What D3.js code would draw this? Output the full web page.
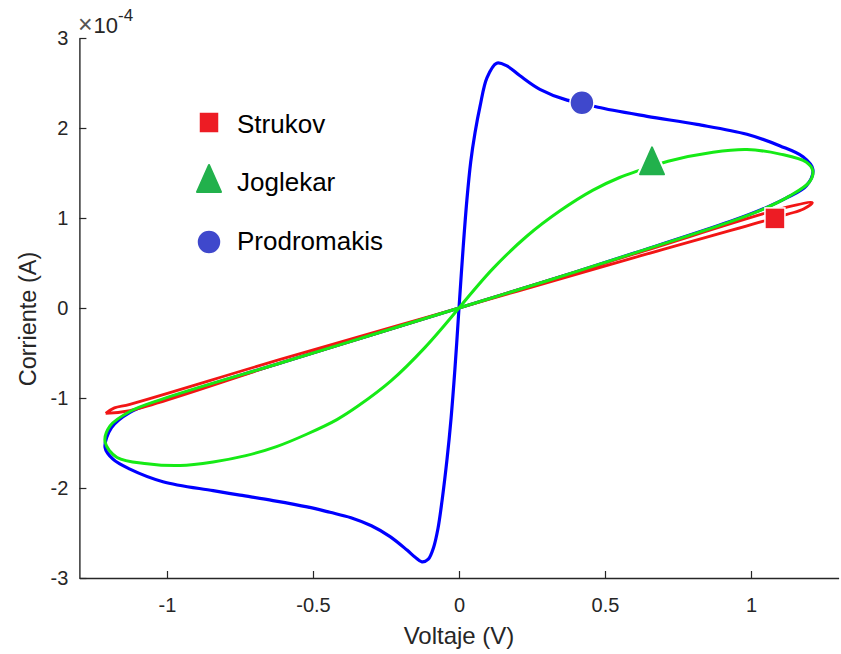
<!DOCTYPE html>
<html>
<head>
<meta charset="utf-8">
<script src="https://cdn.jsdelivr.net/npm/d3@7"></script>
<style>
  html, body { margin: 0; padding: 0; background: #ffffff; }
  svg { display: block; font-family: Arial, "Liberation Sans", Helvetica, sans-serif; }
</style>
</head>
<body>
<svg id="chart" width="841" height="654"></svg>
<script>
// ---- Data (current in units of 1e-4 A, voltage in V) ----
const xTicks = [-1, -0.5, 0, 0.5, 1];
const yTicks = [-3, -2, -1, 0, 1, 2, 3];
const xLabel = "Voltaje (V)";
const yLabel = "Corriente (A)";
const seriesNames = ["Strukov", "Joglekar", "Prodromakis"];

// Prodromakis (blue) loop
const prodV = [0, 0.014, 0.027, 0.040, 0.055, 0.072, 0.096, 0.129, 0.164, 0.209, 0.277, 0.37, 0.421, 0.476, 0.644, 0.815, 0.986, 1.10, 1.178, 1.212,
  1.19, 1.12, 1.048, 0.928, 0.6, 0.3, 0, -0.3, -0.6, -1.014, -1.127, -1.19, -1.212,
  -1.185, -1.127, -1.014, -0.842, -0.75, -0.637, -0.52, -0.442, -0.37, -0.3, -0.236, -0.178, -0.15, -0.127, -0.105, -0.087, -0.072, -0.058, -0.041, -0.027, -0.014, 0];
const prodI = [0, 0.66, 1.20, 1.62, 1.95, 2.24, 2.56, 2.72, 2.69, 2.58, 2.43, 2.31, 2.28, 2.23, 2.13, 2.04, 1.93, 1.80, 1.68, 1.54,
  1.36, 1.22, 1.11, 0.96, 0.61, 0.30, 0, -0.30, -0.60, -1.02, -1.16, -1.33, -1.55,
  -1.68, -1.79, -1.93, -2.03, -2.08, -2.14, -2.21, -2.27, -2.33, -2.42, -2.54, -2.69, -2.77, -2.82, -2.79, -2.66, -2.45, -2.14, -1.68, -1.22, -0.68, 0];

// Joglekar (green) loop
const jogV = [0, 0.117, 0.233, 0.346, 0.459, 0.55, 0.61, 0.716, 0.87, 0.986, 1.10, 1.19, 1.212,
  1.20, 1.13, 1.05, 0.93, 0.6, 0.3, 0, -0.3, -0.6, -1.014, -1.127, -1.195, -1.212,
  -1.171, -1.068, -0.955, -0.842, -0.73, -0.625, -0.52, -0.418, -0.346, -0.233, -0.117, 0];
const jogI = [0, 0.44, 0.80, 1.08, 1.31, 1.45, 1.52, 1.63, 1.73, 1.76, 1.71, 1.62, 1.52,
  1.40, 1.24, 1.11, 0.96, 0.61, 0.30, 0, -0.30, -0.60, -1.01, -1.15, -1.31, -1.49,
  -1.66, -1.73, -1.75, -1.71, -1.64, -1.54, -1.40, -1.24, -1.09, -0.81, -0.44, 0];

// Strukov (red) narrow loop
const strV = [-1.21, -1.127, -0.6, 0, 0.6, 1.123, 1.21, 1.18, 1.123, 0.6, 0, -0.6, -1.127, -1.18, -1.21];
const strI = [-1.17, -1.14, -0.60, 0, 0.60, 1.12, 1.17, 1.10, 1.04, 0.56, 0, -0.56, -1.07, -1.11, -1.17];

// marker positions on the curves
const markerV = [1.082, 0.661, 0.421];
const markerI = [0.99, 1.63, 2.28];

// ---- Drawing ----
const svg = d3.select("#chart");
const x = d3.scaleLinear().domain([-1.3, 1.3]).range([79.4, 838.6]);
const y = d3.scaleLinear().domain([-3, 3]).range([578, 38]);
const axisColor = "#262626";

const line = d3.line().x(d => x(d[0])).y(d => y(d[1])).curve(d3.curveCatmullRom.alpha(0.5));
const zip = (a, b) => a.map((v, i) => [v, b[i]]);

const colors = { Strukov: "#f21515", Joglekar: "#16ea16", Prodromakis: "#0000ff" };
const markerColors = { Strukov: "#ed1c24", Joglekar: "#22b14c", Prodromakis: "#3f48cc" };

svg.append("path").datum(zip(prodV, prodI)).attr("d", line)
  .attr("fill", "none").attr("stroke", colors.Prodromakis).attr("stroke-width", 3.2).attr("stroke-linejoin", "round");
svg.append("path").datum(zip(strV, strI)).attr("d", line)
  .attr("fill", "none").attr("stroke", colors.Strukov).attr("stroke-width", 2.8).attr("stroke-linejoin", "round");
svg.append("path").datum(zip(jogV, jogI)).attr("d", line)
  .attr("fill", "none").attr("stroke", colors.Joglekar).attr("stroke-width", 3).attr("stroke-linejoin", "round");

// axes
const xAxis = d3.axisBottom(x).tickValues(xTicks).tickSizeInner(-7).tickSizeOuter(0).tickPadding(20).tickFormat(d => String(d));
const yAxis = d3.axisLeft(y).tickValues(yTicks).tickSizeInner(-7).tickSizeOuter(0).tickPadding(11).tickFormat(d => String(d));

const gx = svg.append("g").attr("transform", "translate(0,578)").call(xAxis);
const gy = svg.append("g").attr("transform", "translate(79.4,0)").call(yAxis);
[gx, gy].forEach(g => {
  g.select(".domain").attr("stroke", axisColor).attr("stroke-width", 1.4);
  g.selectAll(".tick line").attr("stroke", axisColor).attr("stroke-width", 1.2);
  g.selectAll(".tick text").attr("fill", axisColor).style("font-size", "20px").style("font-family", "Arial, 'Liberation Sans', sans-serif");
});

// exponent label
const ex = svg.append("text").attr("x", 78).attr("y", 33).attr("fill", axisColor);
ex.append("tspan").style("font-size", "25px").attr("fill", "#555555").style("font-weight", "300").text("\u00d7");
ex.append("tspan").style("font-size", "22px").attr("dx", 1).text("10");
ex.append("tspan").attr("dy", -12).style("font-size", "17px").text("-4");

// axis labels
svg.append("text").attr("x", 459).attr("y", 644).attr("text-anchor", "middle")
  .attr("fill", axisColor).style("font-size", "24px").text(xLabel);
svg.append("text").attr("transform", "translate(36,319) rotate(-90)").attr("text-anchor", "middle")
  .attr("fill", axisColor).style("font-size", "23.5px").text(yLabel);

// marker shapes
function drawMarker(g, name, cx, cy) {
  const c = markerColors[name];
  if (name === "Strukov") {
    g.append("rect").attr("x", cx - 10).attr("y", cy - 11).attr("width", 20).attr("height", 21)
      .attr("fill", c).attr("stroke", "#ffffff").attr("stroke-width", 1.5);
  } else if (name === "Joglekar") {
    const p = d3.path();
    p.moveTo(cx, cy - 14); p.lineTo(cx + 12, cy + 13); p.lineTo(cx - 12, cy + 13); p.closePath();
    g.append("path").attr("d", p.toString()).attr("fill", "none").attr("stroke", "#ffffff")
      .attr("stroke-width", 6).attr("stroke-linejoin", "round");
    g.append("path").attr("d", p.toString()).attr("fill", c).attr("stroke", c)
      .attr("stroke-width", 2).attr("stroke-linejoin", "round");
  } else {
    g.append("circle").attr("cx", cx).attr("cy", cy).attr("r", 12)
      .attr("fill", c).attr("stroke", "#ffffff").attr("stroke-width", 1.5);
  }
}

const mg = svg.append("g");
seriesNames.forEach((n, i) => {
  drawMarker(mg, n, x(markerV[i]), y(markerI[i]));
});

// legend
const legY = [123, 179, 242];
const legBase = [133, 191, 250];
const lg = svg.append("g");
seriesNames.forEach((n, i) => {
  drawMarker(lg, n, 209, legY[i]);
  lg.append("text").attr("x", 237).attr("y", legBase[i]).attr("fill", "#000000")
    .style("font-size", "26px").text(n);
});
</script>
</body>
</html>
